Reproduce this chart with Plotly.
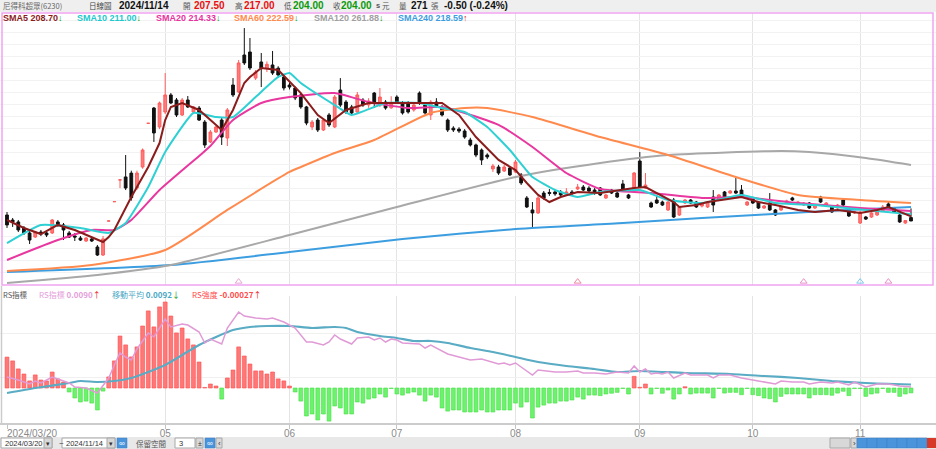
import plotly.graph_objects as go

W, H = 936, 449

# ---------------- data ----------------
n_days = 161
idx = list(range(n_days))

opens = [
    210.2, 205.0, 203.0, 196.8, 191.6, 187.4, 192.6, 191.6, 191.6, 203.0,
    199.9, 191.6, 188.5, 186.4, 183.3, 185.4, 177.1, 168.8, 204.0, 224.0,
    246.5, 249.5, 253.5, 238.1, 259.8, 305.0, 320.8, 301.2, 316.7, 334.3,
    329.1, 313.6, 329.1, 316.7, 320.8, 306.3, 285.7, 296.0, 308.4, 289.8,
    344.6, 337.4, 375.6, 378.7, 351.8, 368.4, 362.0, 365.3, 362.0, 352.9,
    344.6, 341.5, 334.3, 321.9, 301.2, 308.4, 298.1, 313.6, 301.2, 339.4,
    327.0, 321.9, 316.7, 329.0, 324.0, 336.3, 323.9, 327.0, 321.0, 332.2,
    326.0, 326.0, 318.8, 336.3, 323.9, 313.6, 327.0, 321.9, 308.4, 300.0,
    299.0, 297.0, 287.7, 282.6, 277.4, 272.2, 257.8, 259.8, 255.7, 258.8,
    254.7, 251.6, 227.8, 215.4, 212.3, 232.9, 233.5, 234.0, 234.0, 232.5,
    234.0, 237.1, 239.1, 238.0, 236.0, 238.1, 227.8, 236.0, 232.9, 242.3,
    230.9, 238.1, 266.0, 238.1, 222.6, 225.7, 223.6, 215.4, 225.7, 210.2,
    222.6, 225.7, 223.6, 219.5, 218.5, 228.8, 225.7, 234.0, 232.9, 235.0,
    236.0, 220.5, 227.8, 223.6, 217.4, 222.6, 215.4, 215.4, 222.6, 227.8,
    221.6, 220.5, 222.6, 217.4, 228.8, 219.5, 218.5, 217.4, 225.7, 215.4,
    212.3, 201.9, 208.1, 208.1, 210.2, 214.3, 221.6, 217.4, 210.2, 201.9,
    207.5]
highs = [
    213.3, 207.1, 205.0, 198.8, 193.7, 193.7, 194.7, 192.6, 206.0, 205.0,
    201.9, 193.7, 191.6, 188.5, 187.4, 187.4, 179.2, 188.5, 204.0, 224.0,
    246.5, 272.2, 256.0, 256.0, 279.0, 305.0, 321.9, 327.5, 357.0, 336.3,
    331.2, 331.2, 333.2, 322.9, 322.9, 308.4, 298.1, 302.2, 310.5, 320.8,
    351.8, 370.5, 403.5, 393.2, 360.1, 377.7, 369.0, 379.8, 364.0, 355.0,
    347.0, 343.0, 336.0, 323.0, 308.4, 310.5, 310.5, 315.7, 334.3, 351.8,
    329.0, 324.0, 337.4, 331.0, 331.0, 337.4, 341.5, 329.0, 333.0, 334.0,
    328.0, 328.0, 326.0, 338.0, 326.0, 329.0, 331.0, 324.0, 310.0, 302.0,
    301.0, 299.0, 290.0, 284.0, 279.0, 274.0, 263.0, 262.0, 262.0, 260.9,
    267.1, 253.6, 229.8, 223.6, 229.8, 235.0, 237.0, 236.0, 236.0, 238.0,
    236.0, 242.3, 241.2, 240.0, 238.0, 239.1, 231.9, 237.1, 234.0, 246.4,
    232.0, 254.7, 275.3, 253.6, 224.0, 230.9, 225.0, 224.7, 227.8, 219.5,
    226.7, 226.7, 224.7, 223.0, 224.7, 236.0, 232.0, 235.0, 236.0, 248.4,
    241.2, 224.7, 229.0, 224.7, 220.5, 232.9, 216.4, 219.5, 226.0, 229.0,
    224.7, 223.6, 223.6, 221.6, 230.0, 223.6, 219.5, 221.6, 226.7, 216.4,
    214.3, 214.3, 209.2, 213.3, 214.3, 220.5, 223.6, 218.5, 211.2, 205.0,
    217.0]
lows = [
    196.8, 197.8, 192.6, 189.5, 180.2, 186.4, 188.5, 187.4, 190.5, 197.8,
    184.3, 186.4, 183.3, 183.3, 182.3, 182.3, 167.8, 167.8, 204.0, 224.0,
    238.0, 236.0, 225.0, 236.0, 258.0, 305.0, 285.7, 299.0, 314.6, 325.0,
    311.5, 312.6, 320.8, 315.7, 307.4, 279.5, 284.6, 295.0, 282.6, 281.5,
    332.2, 336.3, 365.3, 360.1, 349.8, 342.5, 358.0, 355.0, 352.0, 339.0,
    340.0, 329.0, 320.0, 303.0, 298.0, 296.0, 297.0, 301.2, 300.0, 321.9,
    314.6, 313.6, 314.6, 322.0, 321.0, 320.8, 321.9, 319.0, 320.0, 325.0,
    314.0, 315.0, 317.0, 324.0, 314.0, 308.4, 320.8, 312.0, 296.0, 296.0,
    295.0, 289.0, 281.0, 270.0, 261.9, 268.0, 254.7, 251.6, 254.7, 250.5,
    253.6, 241.2, 217.4, 197.8, 211.2, 226.0, 230.0, 230.0, 229.0, 231.0,
    231.0, 236.0, 235.0, 233.0, 231.0, 229.8, 226.7, 231.9, 227.8, 235.0,
    226.7, 237.1, 238.1, 237.1, 217.4, 221.6, 219.5, 214.3, 207.1, 209.2,
    221.6, 221.6, 217.4, 218.0, 217.4, 213.3, 224.7, 226.7, 232.0, 231.9,
    227.8, 219.5, 221.6, 216.4, 216.4, 214.3, 209.2, 214.3, 221.6, 224.7,
    220.5, 219.5, 216.4, 216.4, 222.6, 218.5, 212.3, 216.4, 219.5, 208.1,
    211.2, 200.9, 205.0, 207.1, 209.2, 213.3, 217.4, 212.3, 202.0, 201.0,
    204.0]
closes = [
    199.9, 203.0, 194.7, 191.6, 184.3, 192.6, 190.5, 189.5, 205.0, 199.9,
    194.7, 187.4, 187.4, 184.3, 186.4, 183.3, 168.8, 185.5, 204.0, 224.0,
    246.5, 238.1, 228.0, 253.6, 277.4, 305.0, 295.0, 326.0, 334.3, 326.0,
    313.6, 329.1, 321.9, 321.9, 308.4, 282.6, 296.0, 301.2, 290.8, 318.8,
    334.3, 367.4, 367.4, 362.2, 358.0, 362.2, 366.0, 357.0, 355.0, 341.5,
    342.5, 331.2, 321.9, 305.3, 306.3, 298.1, 308.4, 303.3, 332.2, 323.9,
    316.7, 315.7, 334.3, 324.0, 328.0, 327.0, 332.2, 320.8, 325.0, 327.0,
    315.7, 316.7, 323.9, 326.0, 315.7, 327.0, 321.9, 313.6, 298.1, 298.1,
    297.0, 290.8, 282.6, 272.2, 267.1, 270.2, 260.9, 253.6, 259.8, 251.6,
    265.0, 243.3, 218.5, 212.3, 227.8, 227.8, 232.5, 232.0, 230.9, 234.0,
    233.0, 239.1, 236.0, 235.0, 232.9, 230.9, 230.9, 232.9, 228.8, 236.0,
    227.8, 253.6, 239.1, 241.2, 218.5, 222.6, 220.5, 223.6, 208.1, 218.5,
    225.7, 222.6, 218.5, 221.6, 223.6, 220.5, 230.9, 227.8, 235.0, 232.9,
    228.8, 223.6, 222.6, 217.4, 219.5, 215.4, 210.2, 218.5, 224.7, 225.7,
    223.6, 222.6, 217.4, 220.5, 223.6, 222.6, 213.3, 220.5, 220.5, 209.2,
    213.3, 213.3, 206.0, 212.3, 213.3, 218.5, 218.5, 213.3, 203.0, 204.5,
    204.0]
volume_last = 271

# moving averages, read at sample days
sma5_x = [0, 3, 6, 9, 12, 15, 17, 18, 19, 22, 25, 27, 28, 29, 31, 34, 38, 40, 42, 43, 45, 48, 52, 55, 57,
          60, 64, 70, 77, 80, 83, 87, 90, 92, 94, 96, 98, 101, 105, 111, 113, 118, 119, 122, 124, 130, 133,
          136, 140, 143, 147, 151, 154, 156, 160]
sma5_v = [205.0, 196.8, 190.5, 199.9, 194.7, 187.4, 182.3, 187.4, 194.7, 228.8, 259.8, 284.6, 308.4, 321.9,
          326.0, 318.8, 298.1, 318.8, 346.7, 352.9, 362.2, 360.1, 336.3, 313.6, 305.3, 318.8, 326.0, 326.0,
          326.0, 313.6, 290.8, 267.1, 256.7, 243.3, 230.9, 223.6, 228.8, 234.0, 232.9, 238.1, 239.1, 223.6,
          218.5, 220.5, 223.6, 228.8, 223.6, 220.5, 215.4, 213.3, 215.4, 212.3, 215.4, 218.5, 208.70]
sma10_x = [0, 6, 13, 18, 21, 25, 28, 33, 37, 40, 44, 48, 50, 52, 58, 61, 67, 73, 77, 81, 85, 89, 93, 97,
           101, 105, 112, 117, 123, 130, 136, 143, 152, 160]
sma10_v = [181.2, 199.9, 196.8, 191.6, 201.9, 239.1, 275.3, 315.7, 311.5, 311.5, 332.2, 352.9, 357.0, 346.7,
           323.9, 313.6, 326.0, 326.0, 320.8, 316.7, 301.2, 277.4, 249.5, 236.0, 228.8, 234.0, 236.0, 225.7,
           222.6, 230.9, 222.6, 220.5, 215.4, 211.00]
sma20_x = [0, 9, 15, 19, 22, 27, 34, 36, 40, 45, 50, 58, 64, 71, 77, 81, 87, 93, 99, 105, 114, 123, 130,
           140, 151, 160]
sma20_v = [163.7, 184.3, 194.7, 194.7, 205.0, 236.0, 271.2, 281.5, 308.4, 326.0, 332.2, 336.3, 327.0, 320.8,
           321.9, 315.7, 303.3, 280.5, 253.6, 237.1, 232.9, 227.8, 228.8, 222.6, 217.4, 214.33]
sma60_x = [0, 15, 28, 39, 50, 52, 58, 65, 75, 81, 85, 93, 105, 117, 129, 140, 151, 160]
sma60_v = [152.3, 158.5, 174.0, 215.4, 254.7, 259.8, 274.3, 287.7, 315.7, 320.8, 320.8, 311.5, 290.8, 272.2,
           249.5, 230.9, 225.7, 222.59]
sma120_x = [0, 16, 29, 50, 69, 90, 105, 117, 137, 142, 152, 160]
sma120_v = [139.9, 148.2, 158.5, 189.5, 218.5, 249.5, 264.0, 272.2, 276.4, 275.3, 269.1, 261.88]
sma240_x = [0, 29, 50, 70, 90, 109, 123, 145, 160]
sma240_v = [151.3, 158.5, 171.9, 185.4, 195.7, 201.9, 207.1, 214.3, 218.59]

# RS panel
rs_bar = [
    0.00170, 0.00149, 0.00105, 0.00077, 0.00039, 0.00072, 0.00044, 0.00039, 0.00088, 0.00050,
    0.00033, -0.00022, -0.00055, -0.00077, -0.00072, -0.00083, -0.00121, -0.00017, 0.00061, 0.00149,
    0.00286, 0.00237, 0.00171, 0.00226, 0.00341, 0.00424, 0.00336, 0.00446, 0.00473, 0.00396,
    0.00303, 0.00330, 0.00270, 0.00237, 0.00143, 0.00003, 0.00022, 0.00011, -0.00061, 0.00055,
    0.00099, 0.00226, 0.00176, 0.00132, 0.00094, 0.00094, 0.00077, 0.00088, 0.00050, 0.00039,
    0.00011, -0.00022, -0.00072, -0.00154, -0.00143, -0.00176, -0.00143, -0.00182, -0.00099, -0.00110,
    -0.00143, -0.00143, -0.00077, -0.00083, -0.00061, -0.00055, -0.00033, -0.00050, -0.00003, -0.00033,
    -0.00039, -0.00028, -0.00022, -0.00039, -0.00072, -0.00039, -0.00050, -0.00110, -0.00127, -0.00121,
    -0.00121, -0.00132, -0.00132, -0.00132, -0.00121, -0.00132, -0.00132, -0.00121, -0.00121, -0.00121,
    -0.00083, -0.00105, -0.00077, -0.00165, -0.00105, -0.00094, -0.00083, -0.00083, -0.00072, -0.00072,
    -0.00066, -0.00050, -0.00061, -0.00039, -0.00039, -0.00042, -0.00033, -0.00029, -0.00024, -0.00003,
    -0.00033, 0.00064, 0.00004, 0.00022, -0.00033, -0.00003, -0.00029, -0.00011, -0.00061, -0.00033,
    0.00007, -0.00033, -0.00028, -0.00028, -0.00028, -0.00055, -0.00003, -0.00028, -0.00024, -0.00024,
    -0.00037, -0.00003, -0.00037, -0.00042, -0.00055, -0.00059, -0.00077, -0.00046, -0.00033, -0.00033,
    -0.00033, -0.00033, -0.00055, -0.00037, -0.00037, -0.00037, -0.00040, -0.00028, -0.00018, -0.00042,
    -0.00003, -0.00003, -0.00046, -0.00033, -0.00028, -0.00003, -0.00024, -0.00024, -0.00046, -0.00033,
    -0.00027]
rs_x = [0, 2, 4, 5, 6, 8, 9, 11, 12, 14, 16, 18, 19, 20, 21, 22, 23, 25, 26, 27, 28, 29, 31, 32, 34, 35,
        36, 38, 39, 41, 42, 44, 46, 47, 49, 51, 52, 53, 54, 56, 57, 58, 59, 61, 62, 64, 65, 66, 67, 68, 69,
        70, 73, 74, 75, 76, 78, 80, 82, 84, 86, 87, 88, 89, 90, 91, 93, 94, 97, 99, 101, 102, 104, 106,
        108, 110, 111, 112, 113, 114, 115, 116, 117, 118, 120, 121, 124, 125, 126, 128, 130, 132, 134,
        136, 137, 139, 141, 142, 144, 146, 147, 149, 150, 152, 154, 156, 158, 160]
rs_v = [0.0098, 0.00956, 0.00924, 0.00948, 0.00932, 0.0098, 0.00964, 0.00932, 0.0090, 0.00892,
        0.00852, 0.00972, 0.01076, 0.01172, 0.0114, 0.01116, 0.01204, 0.01332, 0.0130, 0.01372,
        0.01444, 0.0138, 0.01404, 0.01396, 0.0134, 0.01252, 0.01284, 0.01244, 0.01372, 0.0150,
        0.01468, 0.01452, 0.01444, 0.01452, 0.0142, 0.01372, 0.01316, 0.0126, 0.0126, 0.01236,
        0.0126, 0.01316, 0.01284, 0.01244, 0.01292, 0.0130, 0.01276, 0.01292, 0.0126, 0.01284,
        0.01276, 0.01252, 0.01244, 0.01212, 0.01236, 0.01212, 0.01164, 0.0114, 0.01116, 0.01124,
        0.0110, 0.01084, 0.01092, 0.01076, 0.01092, 0.0106, 0.00996, 0.01036, 0.0102, 0.0102,
        0.01028, 0.01012, 0.01012, 0.01004, 0.0102, 0.01012, 0.01068, 0.0102, 0.01044, 0.01004,
        0.01012, 0.01004, 0.0102, 0.00972, 0.01012, 0.00996, 0.00996, 0.00972, 0.00996, 0.00996,
        0.00972, 0.00956, 0.0094, 0.00924, 0.00948, 0.0094, 0.0094, 0.00924, 0.0094, 0.00932,
        0.0094, 0.00916, 0.0094, 0.0090, 0.00924, 0.00924, 0.00908, 0.0090]
rsma_x = [0, 5, 11, 13, 16, 19, 22, 25, 28, 31, 34, 37, 40, 43, 46, 50, 54, 58, 60, 62, 66, 69, 72, 75, 78,
          82, 86, 90, 94, 99, 104, 108, 112, 120, 128, 134, 140, 146, 152, 160]
rsma_v = [0.00852, 0.00892, 0.00932, 0.00948, 0.0094, 0.00948, 0.00972, 0.0102, 0.01076, 0.01156,
          0.01236, 0.0130, 0.01356, 0.0138, 0.01388, 0.01388, 0.01372, 0.0138, 0.01372, 0.0134,
          0.01308, 0.01292, 0.01268, 0.01268, 0.01252, 0.01212, 0.0118, 0.0114, 0.0110, 0.01068,
          0.01044, 0.0102, 0.01028, 0.01012, 0.01004, 0.00988, 0.00972, 0.00948, 0.00932, 0.0092]

event_idx = [41, 101, 141, 151, 156]
event_col = ['#e6a6d6', '#f08aa0', '#e890c8', '#7cc8ee', '#e890c8']

tick_idx = [28, 50, 69, 90, 112, 132, 151]
tick_text = ['05', '06', '07', '08', '09', '10', '11']
first_label = '2024/03/20'

assert all(len(a) == n_days for a in (opens, highs, lows, closes, rs_bar))
assert len(rs_x) == len(rs_v) and len(rsma_x) == len(rsma_v)

# ---------------- scales ----------------
PXD = 5.65                    # pixels per trading day
x_lo = -7 / PXD
x_hi = x_lo + W / PXD
PPP = 1.034                   # price units per pixel in the main panel
y_lo = 432.5 - PPP * 285
y_hi = 432.5 - PPP * 13
bar_k = 0.000055
bar_lo, bar_hi = -(423 - 388) * bar_k, (388 - 296) * bar_k
rs_k = 0.00008
rs_lo, rs_hi = 0.0090 - (423 - 387) * rs_k, 0.0090 + (387 - 296) * rs_k


def px(x):
    return x / W


def py(y):
    return 1 - y / H


FONT = "Liberation Sans, Noto Sans CJK TC, sans-serif"
CJK = "Noto Sans CJK TC, Liberation Sans, sans-serif"

fig = go.Figure()

# long moving averages under the candles
fig.add_trace(go.Scatter(x=sma240_x, y=sma240_v, mode='lines', line=dict(color='#3c9ee0', width=2, shape='spline', smoothing=0.6),
                         hoverinfo='skip', xaxis='x', yaxis='y'))
fig.add_trace(go.Scatter(x=sma120_x, y=sma120_v, mode='lines', line=dict(color='#a8a8a8', width=2, shape='spline', smoothing=0.6),
                         hoverinfo='skip', xaxis='x', yaxis='y'))
fig.add_trace(go.Scatter(x=sma60_x, y=sma60_v, mode='lines', line=dict(color='#ff8a4e', width=2, shape='spline', smoothing=0.6),
                         hoverinfo='skip', xaxis='x', yaxis='y'))

fig.add_trace(go.Candlestick(
    x=idx, open=opens, high=highs, low=lows, close=closes,
    increasing=dict(line=dict(color='#ff5c5c', width=1), fillcolor='#ff7a7a'),
    decreasing=dict(line=dict(color='#111111', width=1), fillcolor='#111111'),
    whiskerwidth=0, hoverinfo='skip', xaxis='x', yaxis='y'))

fig.add_trace(go.Scatter(x=sma20_x, y=sma20_v, mode='lines', line=dict(color='#e8379f', width=2, shape='spline', smoothing=0.5),
                         hoverinfo='skip', xaxis='x', yaxis='y'))
fig.add_trace(go.Scatter(x=sma10_x, y=sma10_v, mode='lines', line=dict(color='#2fd0d4', width=2, shape='spline', smoothing=0.4),
                         hoverinfo='skip', xaxis='x', yaxis='y'))
fig.add_trace(go.Scatter(x=sma5_x, y=sma5_v, mode='lines', line=dict(color='#8b1c1c', width=2),
                         hoverinfo='skip', xaxis='x', yaxis='y'))

fig.add_trace(go.Scatter(x=event_idx, y=[y_lo + 3.5] * len(event_idx), mode='markers',
                         marker=dict(symbol='triangle-up-open', size=6, color=event_col, line=dict(width=1, color=event_col)),
                         hoverinfo='skip', xaxis='x', yaxis='y'))

# RS panel
bar_cols = ['#ff7878' if v > 0 else '#6cf26c' for v in rs_bar]
bar_line = ['#ff4a4a' if v > 0 else '#44e044' for v in rs_bar]
fig.add_trace(go.Bar(x=idx, y=rs_bar, marker=dict(color=bar_cols, line=dict(color=bar_line, width=0.6)),
                     hoverinfo='skip', xaxis='x2', yaxis='y2'))
fig.add_trace(go.Scatter(x=rsma_x, y=rsma_v, mode='lines', line=dict(color='#5aabc4', width=2.2, shape='spline', smoothing=0.6),
                         hoverinfo='skip', xaxis='x2', yaxis='y3'))
fig.add_trace(go.Scatter(x=rs_x, y=rs_v, mode='lines', line=dict(color='#e09ad6', width=1.5),
                         hoverinfo='skip', xaxis='x2', yaxis='y3'))

fig.update_layout(
    width=W, height=H, margin=dict(l=0, r=0, t=0, b=0),
    paper_bgcolor='white', plot_bgcolor='white', showlegend=False,
    font=dict(family=FONT), bargap=0.32,
    xaxis=dict(domain=[0, 1], range=[x_lo, x_hi], anchor='y', rangeslider=dict(visible=False),
               tickmode='array', tickvals=tick_idx, showticklabels=False, ticks='',
               showgrid=True, gridcolor='#e4e4e4', gridwidth=1, zeroline=False, fixedrange=True),
    yaxis=dict(domain=[py(285), py(13)], range=[y_lo, y_hi], showticklabels=False, ticks='',
               tick0=432.5 - PPP * 20, dtick=12 * PPP, showgrid=True, gridcolor='#f2f2f2',
               zeroline=False, fixedrange=True),
    xaxis2=dict(domain=[0, 1], range=[x_lo, x_hi], anchor='y2', matches='x',
                tickmode='array', tickvals=tick_idx, ticktext=tick_text, ticks='outside', ticklen=4,
                tickcolor='#c4c4c4', tickfont=dict(size=10, color='#8a8a8a'), ticklabelstandoff=-4,
                showgrid=True, gridcolor='#e4e4e4', showline=True, linecolor='#cccccc', linewidth=2,
                zeroline=False, fixedrange=True,
                minor=dict(tickmode='array', tickvals=[0], ticks='outside', ticklen=4, tickcolor='#c4c4c4', showgrid=False)),
    yaxis2=dict(domain=[py(423), py(296)], range=[bar_lo, bar_hi], showticklabels=False, ticks='',
                showgrid=False, zeroline=False, fixedrange=True),
    yaxis3=dict(overlaying='y2', range=[rs_lo, rs_hi], tickmode='array',
                tickvals=[0.0090 + (387 - 377) * rs_k, 0.0090 + (387 - 333) * rs_k],
                showticklabels=False, ticks='', showgrid=True, gridcolor='#f0f0f0', zeroline=False,
                fixedrange=True, side='right'),
)

shapes = []
# header background
shapes.append(dict(type='rect', xref='paper', yref='paper', x0=0, x1=1, y0=py(12), y1=1,
                   fillcolor='#efefef', line=dict(width=0), layer='below'))
# main panel border
shapes.append(dict(type='rect', xref='paper', yref='paper', x0=px(2), x1=px(933), y0=py(285), y1=py(13),
                   line=dict(color='#f0a4f0', width=1.5), fillcolor='rgba(0,0,0,0)'))
# RS panel left border
shapes.append(dict(type='line', xref='paper', yref='paper', x0=px(1.5), x1=px(1.5), y0=py(423), y1=py(286),
                   line=dict(color='#cccccc', width=1.5)))
# bottom toolbar
shapes.append(dict(type='rect', xref='paper', yref='paper', x0=0, x1=1, y0=0, y1=py(437),
                   fillcolor='#e8e8e8', line=dict(width=0)))
for x0, x1 in [(1, 52), (62, 115), (175, 195)]:
    shapes.append(dict(type='rect', xref='paper', yref='paper', x0=px(x0), x1=px(x1), y0=py(448), y1=py(438),
                       fillcolor='white', line=dict(color='#a8a8a8', width=1)))
for x0, x1 in [(44, 52), (107, 115), (196, 203), (216, 222), (830, 850), (851, 857)]:
    shapes.append(dict(type='rect', xref='paper', yref='paper', x0=px(x0), x1=px(x1), y0=py(448), y1=py(438),
                       fillcolor='#d8d8d8', line=dict(color='#a8a8a8', width=1)))
for x0 in [117, 205, 857, 867, 877, 887, 897, 907, 917]:
    shapes.append(dict(type='rect', xref='paper', yref='paper', x0=px(x0), x1=px(x0 + 10), y0=py(448), y1=py(438),
                       fillcolor='#4a94dc', line=dict(color='#3a7fc4', width=0.5)))
shapes.append(dict(type='rect', xref='paper', yref='paper', x0=px(927), x1=px(936), y0=py(448), y1=py(438),
                   fillcolor='#d83a2a', line=dict(width=0)))
fig.update_layout(shapes=shapes)

ann = []


def txt(x, y, s, size=8, color='#333', bold=False, family=FONT, anchor='left'):
    if bold:
        s = '<b>' + s + '</b>'
    ann.append(dict(x=px(x), y=py(y), xref='paper', yref='paper', text=s, showarrow=False,
                    xanchor=anchor, yanchor='middle', font=dict(size=size, color=color, family=family)))


RED, GREEN = '#e81010', '#0a9a0a'
chg = closes[-1] - closes[-2]
# header
txt(1, 6, '尼得科超眾(6230)', 7.5, '#666', family=CJK)
txt(87, 6, '日線圖', 7.5, '#444', family=CJK)
txt(117, 6, '2024/11/14', 10, '#111', True)
txt(181, 6, '開', 7.5, '#555', family=CJK)
txt(192, 6, f'{opens[-1]:.2f}', 10, RED, True)
txt(233, 6, '高', 7.5, '#555', family=CJK)
txt(242, 6, f'{highs[-1]:.2f}', 10, RED, True)
txt(282, 6, '低', 7.5, '#555', family=CJK)
txt(291, 6, f'{lows[-1]:.2f}', 10, GREEN, True)
txt(331, 6, '收', 7.5, '#555', family=CJK)
txt(339, 6, f'{closes[-1]:.2f}', 10, GREEN, True)
txt(374, 6, 's', 7.5, '#555', True)
txt(380, 6, '元', 7.5, '#555', family=CJK)
txt(397, 6, '量', 7.5, '#555', family=CJK)
txt(409, 6, f'{volume_last}', 10, '#111', True)
txt(429, 6, '張', 7.5, '#555', family=CJK)
txt(442, 6, f'{chg:.2f} ({chg / closes[-2] * 100:.2f}%)', 10, '#111', True)

UP = f"<span style='color:{RED}'>↑</span>"
DN = f"<span style='color:{GREEN}'>↓</span>"


def arrow(cur, ref):
    return UP if cur >= ref else DN


legend_items = [
    (1, 'SMA5', sma5_v, '#8b1c1c'),
    (75, 'SMA10', sma10_v, '#22c8cc'),
    (154, 'SMA20', sma20_v, '#e8339f'),
    (232, 'SMA60', sma60_v, '#ff8a4e'),
    (312, 'SMA120', sma120_v, '#a0a0a0'),
    (396, 'SMA240', sma240_v, '#3c9ee0'),
]
for x, name, vals, col in legend_items:
    txt(x, 18, f"<span style='color:{col}'>{name} {vals[-1]:.2f}</span>{arrow(vals[-1], vals[-2])}", 9, col, True)

# RS row
txt(1, 294, 'RS指標', 7.5, '#555', family=CJK)
txt(37, 294, f"<span style='color:#e4a0da'>RS指標 <b>{rs_v[-1]:.4f}</b></span><span style='color:{RED}'>↑</span>", 8, '#e4a0da', family=CJK)
txt(110, 294, f"<span style='color:#4aa8c4'>移動平均 <b>{rsma_v[-1]:.4f}</b></span><span style='color:{GREEN}'>↓</span>", 8, '#4aa8c4', family=CJK)
txt(190, 294, f"<span style='color:#ff4a4a'>RS強度 <b>{rs_bar[-1]:.5f}</b></span><span style='color:{RED}'>↑</span>", 8, '#ff4a4a', family=CJK)

# x label for the first day
txt(5, 433, first_label, 10, '#8a8a8a')

# toolbar texts
txt(3, 443, '2024/03/20', 7.5, '#333')
txt(48, 443, '▾', 7, '#333', anchor='center')
txt(57, 443, '~', 8, '#333')
txt(64, 443, '2024/11/14', 7.5, '#333')
txt(111, 443, '▾', 7, '#333', anchor='center')
txt(122, 443, '∞', 8, 'white', anchor='center')
txt(134, 443, '保留空間', 7.5, '#555', family=CJK)
txt(177, 443, '3', 7.5, '#333')
txt(199.5, 443, '±', 7, '#333', anchor='center')
txt(210, 443, '∞', 8, 'white', anchor='center')
txt(219, 443, '‹', 8, '#333', anchor='center')
txt(854, 443, '›', 8, '#333', anchor='center')

fig.update_layout(annotations=ann)

fig.write_html("out.html", config={'displayModeBar': False},
               post_script="document.body.style.margin='0';document.body.style.overflow='hidden';")
